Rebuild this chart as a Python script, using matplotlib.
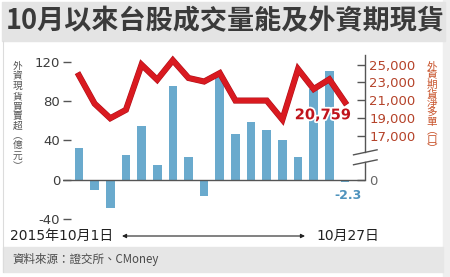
import numpy as np
import matplotlib
matplotlib.use("Agg")
import matplotlib.pyplot as plt
from matplotlib.patches import Rectangle
import matplotlib.patheffects as pe

plt.rcParams['font.family'] = ['DejaVu Sans', 'Noto Sans CJK TC']

# trading days 2015/10/1 - 10/27
days = ['10/1', '10/2', '10/5', '10/6', '10/7', '10/8', '10/12', '10/13', '10/14',
        '10/15', '10/16', '10/19', '10/20', '10/21', '10/22', '10/23', '10/26', '10/27']
spot = [32, -10, -29, 25, 55, 15, 95, 23, -17, 106, 47, 59, 51, 40, 23, 92, 111, -2.3]
futures = [23800, 20600, 18950, 19900, 25000, 23300, 25500, 23500, 23100, 24050,
           20950, 20950, 20950, 18800, 24500, 22250, 23350, 20759]

left_ticks = [-40, 0, 40, 80, 120]
right_ticks = [17000, 19000, 21000, 23000, 25000]

W, H = 450, 277
BAR = '#6aaacd'
RED = '#d91a20'
GRAY = '#3c3c3c'
ORANGE = '#b5432a'

def fx(x):
    return x / W

def fy(y):
    return 1 - y / H

fig = plt.figure(figsize=(4.5, 2.77), dpi=100)
fig.patch.set_facecolor('white')

# frame / bands
fig.patches.append(Rectangle((fx(443), 0), fx(7), 1, transform=fig.transFigure,
                             color='#efefef', zorder=0))
fig.patches.append(Rectangle((fx(2), fy(41)), fx(443), 39 / H, transform=fig.transFigure,
                             color='#e4e4e4', zorder=0))
fig.patches.append(Rectangle((fx(3), fy(272)), fx(440), 25 / H, transform=fig.transFigure,
                             color='#e6e6e6', zorder=0))
fig.lines.append(plt.Line2D([fx(2.5), fx(2.5)], [fy(41), fy(272)], transform=fig.transFigure,
                            color='#dcdcdc', lw=0.8))

fig.text(fx(225), fy(21), '10月以來台股成交量能及外資期現貨', ha='center', va='center',
         fontsize=19.5, fontweight='bold', color='#3a3a3a', family='Noto Sans CJK TC')
fig.text(fx(12), fy(259), '資料來源：證交所、CMoney', ha='left', va='center',
         fontsize=8.3, color='#4a4a4a', family='Noto Sans CJK TC')

# main axes: x 63..365 px, y 55..224 px
ax = fig.add_axes([fx(63), fy(224), fx(302), 169 / H])
ax.set_facecolor('none')
x = np.arange(len(days))
ax.bar(x, spot, width=0.55, color=BAR, zorder=2)
ax.axhline(0, color='#555555', lw=1.0, zorder=3)
ax.set_xlim(-1.02, 18.28)
ylo, yhi = -45, 127
ax.set_ylim(ylo, yhi)
ax.set_yticks(left_ticks)
ax.set_yticklabels([str(t) for t in left_ticks])
ax.tick_params(axis='y', direction='in', length=6, width=1, color='#555555',
               labelsize=9.5, labelcolor=GRAY, pad=2)
ax.set_xticks([])
for s in ax.spines.values():
    s.set_visible(False)

# right axis, broken between 0 and 17,000
a, b = 12000, 111.0
ax2 = ax.twinx()
ax2.set_ylim(a + b * ylo, a + b * yhi)
ax2.plot(x, futures, color=RED, lw=3.6, solid_joinstyle='miter', zorder=4,
         path_effects=[pe.Stroke(linewidth=4.4, foreground='#b0101a'), pe.Normal()])
ax2.set_yticks([a] + right_ticks)
ax2.set_yticklabels(['0'] + ['{:,}'.format(t) for t in right_ticks])
ax2.tick_params(axis='y', direction='in', length=6, width=1, color='#555555',
                labelsize=9.5, labelcolor=ORANGE, pad=3)
ax2.get_yticklabels()[0].set_color('#666666')
for s in ax2.spines.values():
    s.set_visible(False)
tr = ax2.get_yaxis_transform()
ax2.plot([1, 1], [a, a + b * 18], transform=tr, color='#555555', lw=1, clip_on=False)
ax2.plot([1, 1], [a + b * 28, a + b * yhi], transform=tr, color='#555555', lw=1, clip_on=False)
ax2.plot([0.962, 1.04], [a + b * 25.4, a + b * 30.5], transform=tr, color='#555555',
         lw=1, clip_on=False)
ax2.plot([0.962, 1.04], [a + b * 15.3, a + b * 20.3], transform=tr, color='#555555',
         lw=1, clip_on=False)

ax2.annotate('{:,}'.format(futures[-1]), (x[-1], futures[-1]), xytext=(4.5, -9),
             textcoords='offset points', ha='right', va='center', fontsize=10.5,
             fontweight='bold', color='#c0141c', zorder=6,
             path_effects=[pe.withStroke(linewidth=2.5, foreground='white')])
ax.annotate(str(spot[-1]), (x[-1], spot[-1]), xytext=(2, -10), textcoords='offset points',
            ha='center', va='center', fontsize=9, fontweight='bold', color='#4f93bd')

# vertical axis titles
fig.text(fx(17.5), fy(116), '\n'.join('外資現貨買賣超︵億元︶'), ha='center', va='center',
         fontsize=7, color='#555555', linespacing=1.0, family='Noto Sans CJK TC')
fig.text(fx(432), fy(108), '\n'.join('外資期貨淨多單︵口︶'), ha='center', va='center',
         fontsize=7.6, color='#c8542c', linespacing=0.9, family='Noto Sans CJK TC')

# date range under the axis
fig.text(fx(10), fy(235.5), '2015年10月1日', ha='left', va='center', fontsize=10, color='#222222')
fig.text(fx(379), fy(235.5), '10月27日', ha='right', va='center', fontsize=10, color='#222222')
ax.annotate('', xy=(305, H - 236), xytext=(122, H - 236), xycoords='figure pixels',
            textcoords='figure pixels',
            arrowprops=dict(arrowstyle='<|-|>', color='#222222', lw=0.8,
                            mutation_scale=6, shrinkA=0, shrinkB=0))

fig.savefig('out.png', dpi=100)
